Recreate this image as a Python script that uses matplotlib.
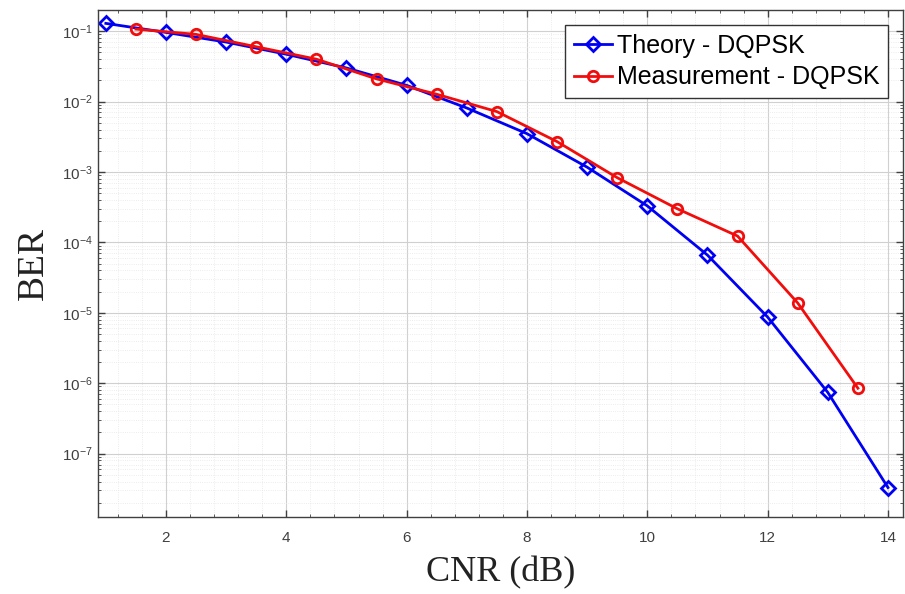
import numpy as np
import matplotlib
matplotlib.use("Agg")
import matplotlib.pyplot as plt
from matplotlib.ticker import LogLocator, MultipleLocator, NullFormatter, FixedLocator

# data
cnr_theory = [1, 2, 3, 4, 5, 6, 7, 8, 9, 10, 11, 12, 13, 14]
ber_theory = [0.129, 0.096, 0.070, 0.047, 0.030, 0.017, 0.0081, 0.0035,
              1.17e-3, 3.3e-4, 6.6e-5, 8.7e-6, 7.4e-7, 3.3e-8]

cnr_meas = [1.5, 2.5, 3.5, 4.5, 5.5, 6.5, 7.5, 8.5, 9.5, 10.5, 11.5, 12.5, 13.5]
ber_meas = [0.107, 0.090, 0.060, 0.040, 0.021, 0.0127, 0.0072, 0.0027,
            8.3e-4, 3.0e-4, 1.23e-4, 1.38e-5, 8.5e-7]

xtick_vals = [2, 4, 6, 8, 10, 12, 14]
ytick_exps = [-7, -6, -5, -4, -3, -2, -1]

plt.rcParams['mathtext.fontset'] = 'custom'
plt.rcParams['mathtext.rm'] = 'Liberation Sans'
plt.rcParams['mathtext.default'] = 'regular'

axcol = '#404040'
sans = ['Liberation Sans', 'DejaVu Sans']
serif = ['Liberation Serif', 'DejaVu Serif']

fig = plt.figure(figsize=(9.05, 5.94), dpi=100)
ax = fig.add_axes([0.1083, 0.1296, 0.8895, 0.8535])

ax.semilogy(cnr_theory, ber_theory, '-D', color=(0, 0, 0.95), lw=2,
            ms=7, mew=2, mfc='none', label='Theory - DQPSK')
ax.semilogy(cnr_meas, ber_meas, '-o', color=(0.95, 0.05, 0.05), lw=2,
            ms=7.5, mew=2, mfc='none', label='Measurement - DQPSK')

ax.set_xlim(0.87, 14.25)
ax.set_ylim(10**-7.9, 10**-0.7)

ax.xaxis.set_major_locator(FixedLocator(xtick_vals))
ax.xaxis.set_minor_locator(MultipleLocator(0.4))
ax.yaxis.set_major_locator(FixedLocator([10.0**e for e in ytick_exps]))
ax.yaxis.set_minor_locator(LogLocator(base=10, subs=np.arange(2, 10), numticks=20))
ax.yaxis.set_minor_formatter(NullFormatter())
ax.set_xticklabels([str(v) for v in xtick_vals], family=sans)
ax.set_yticklabels(['10$^{%d}$' % e for e in ytick_exps], family=sans)

ax.grid(True, which='major', color='#d0d0d0', lw=0.8)
ax.grid(True, which='minor', color='#e6e6e6', lw=0.6, ls=':')
ax.set_axisbelow(True)

ax.tick_params(which='both', direction='in', top=True, right=True, colors=axcol,
               labelsize=11, labelcolor=axcol)
ax.tick_params(axis='x', which='major', pad=10)
ax.tick_params(axis='y', which='major', pad=4)
ax.tick_params(which='major', length=5, width=1)
ax.tick_params(which='minor', length=2.5, width=0.6)
for s in ax.spines.values():
    s.set_color(axcol)
    s.set_linewidth(1)

ax.set_xlabel('CNR (dB)', family=serif, fontsize=26, color='#222222', labelpad=8)
ax.set_ylabel('BER', family=serif, fontsize=27, color='#222222', labelpad=8)

leg = ax.legend(loc='upper right', frameon=True, fancybox=False,
                borderpad=0.35, handlelength=1.5, handletextpad=0.2,
                labelspacing=0.3, borderaxespad=0.6,
                prop={'family': sans, 'size': 18})
leg.get_frame().set_edgecolor('#333333')
leg.get_frame().set_linewidth(1)
leg.get_frame().set_alpha(1)

fig.savefig('out.png', dpi=100)
